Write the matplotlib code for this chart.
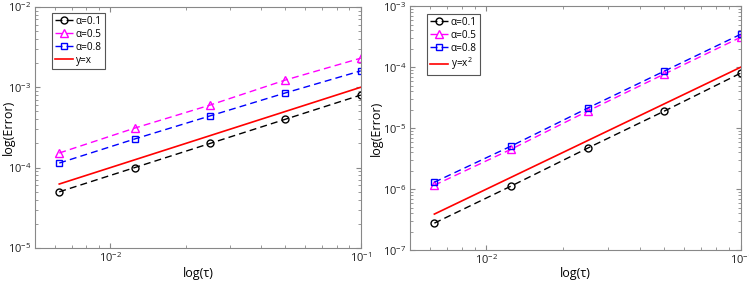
import matplotlib
matplotlib.use("Agg")
import matplotlib.pyplot as plt
import numpy as np
from matplotlib.ticker import LogLocator, NullFormatter

plt.rcParams['font.family'] = ['Open Sans', 'DejaVu Sans']
plt.rcParams['mathtext.fontset'] = 'custom'
plt.rcParams['mathtext.rm'] = 'Open Sans'

tau = [1/160, 1/80, 1/40, 1/20, 1/10]

# Left panel (first-order)
left_a01 = [5.0e-5, 1.0e-4, 2.0e-4, 4.0e-4, 8.0e-4]
left_a05 = [1.52e-4, 3.1e-4, 6.0e-4, 1.23e-3, 2.3e-3]
left_a08 = [1.14e-4, 2.27e-4, 4.4e-4, 8.5e-4, 1.6e-3]
left_ref = [6.25e-5, 1.0e-3]

# Right panel (second-order)
right_a01 = [2.77e-7, 1.12e-6, 4.7e-6, 1.9e-5, 8.0e-5]
right_a05 = [1.16e-6, 4.5e-6, 1.9e-5, 7.7e-5, 3.1e-4]
right_a08 = [1.3e-6, 5.07e-6, 2.13e-5, 8.6e-5, 3.47e-4]
right_ref = [3.9e-7, 1.0e-4]
ref_tau = [1/160, 1/10]

labels = ['α=0.1', 'α=0.5', 'α=0.8']

fig = plt.figure(figsize=(7.49, 2.82), dpi=100)
ax1 = fig.add_axes([0.0467, 0.1206, 0.435, 0.855])
ax2 = fig.add_axes([0.547, 0.113, 0.442, 0.865])

def draw(ax, a01, a05, a08, ref, reflabel, ylim, ylab_x, xlab_y, leg_anchor):
    ax.loglog(tau, a01, linestyle=(0, (5, 3)), color='black', marker='o', mfc='none',
              ms=5, lw=1, mew=1, label=labels[0])
    ax.loglog(tau, a05, linestyle=(0, (5, 3)), color='magenta', marker='^', mfc='none',
              ms=5.5, lw=1, mew=1, label=labels[1])
    ax.loglog(tau, a08, linestyle=(0, (5, 3)), color='blue', marker='s', mfc='none',
              ms=4.2, lw=1, mew=1, label=labels[2])
    ax.loglog(ref_tau, ref, color='red', lw=1.2, label=reflabel)
    ax.set_xlim(0.005, 0.1)
    ax.set_ylim(*ylim)
    ax.xaxis.set_major_locator(LogLocator(base=10, numticks=10))
    ax.xaxis.set_minor_locator(LogLocator(base=10, subs=np.arange(2, 10), numticks=20))
    ax.yaxis.set_major_locator(LogLocator(base=10, numticks=10))
    ax.yaxis.set_minor_locator(LogLocator(base=10, subs=np.arange(2, 10), numticks=20))
    ax.xaxis.set_minor_formatter(NullFormatter())
    ax.yaxis.set_minor_formatter(NullFormatter())
    ax.tick_params(which='both', direction='in', top=True, right=True, color='#888888',
                   labelsize=8, labelcolor='#222222', pad=2.5)
    ax.tick_params(which='major', length=3.5)
    ax.tick_params(which='minor', length=2)
    for s in ax.spines.values():
        s.set_color('#888888')
        s.set_linewidth(0.8)
    ax.set_xlabel('log(τ)', fontsize=9)
    ax.set_ylabel('log(Error)', fontsize=9)
    ax.yaxis.set_label_coords(ylab_x, 0.5)
    ax.xaxis.set_label_coords(0.5, xlab_y)
    leg = ax.legend(loc='upper left', bbox_to_anchor=leg_anchor, fontsize=7.2,
                    fancybox=False, framealpha=1, edgecolor='#555555',
                    handlelength=1.8, handletextpad=0.3, borderpad=0.3,
                    labelspacing=0.2, borderaxespad=0)
    leg.get_frame().set_linewidth(0.8)

draw(ax1, left_a01, left_a05, left_a08, left_ref, 'y=x', (1e-5, 1e-2),
     -0.062, -0.079, (0.052, 0.975))
draw(ax2, right_a01, right_a05, right_a08, right_ref, 'y=x$^2$', (1e-7, 1e-3),
     -0.082, -0.069, (0.051, 0.97))

fig.savefig('out.png', dpi=100)
